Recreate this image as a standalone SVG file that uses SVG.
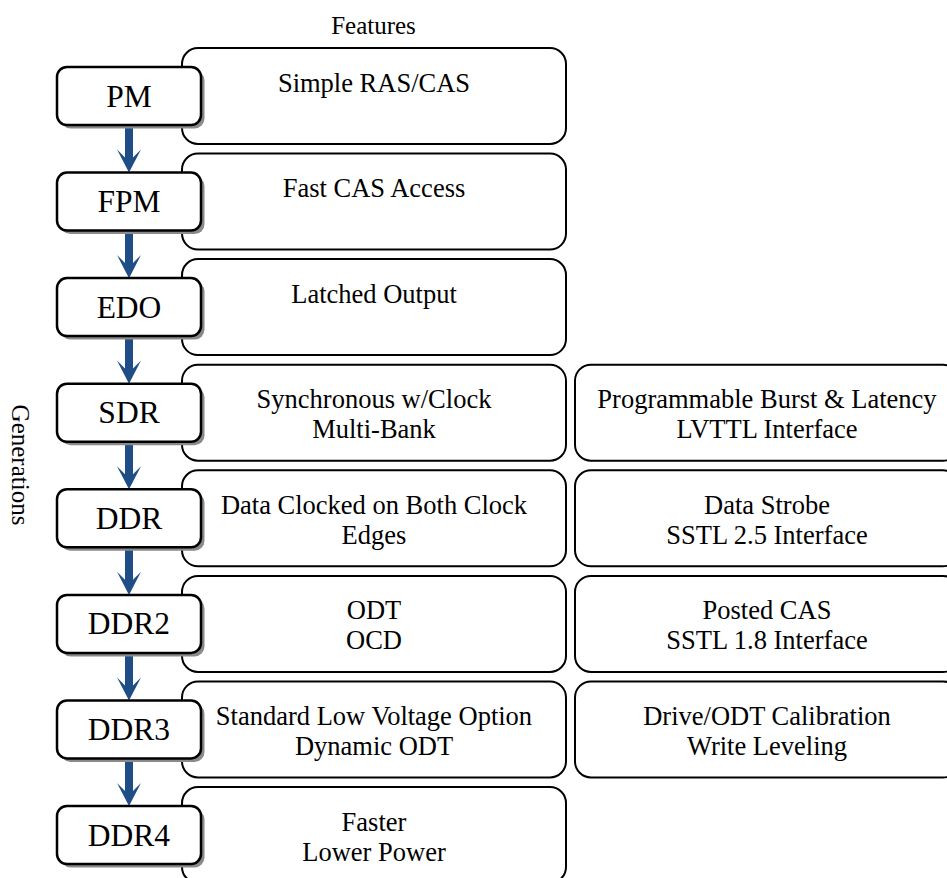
<svg xmlns="http://www.w3.org/2000/svg" xmlns:xlink="http://www.w3.org/1999/xlink" width="947" height="878" viewBox="0 0 947 878" font-family="'Liberation Serif', 'Times New Roman', Times, 'DejaVu Serif', serif">
<style>
  text { font-family: "Liberation Serif", "Times New Roman", Times, "DejaVu Serif", serif; fill: #000; text-anchor: middle; }
  .feat { fill: #fff; stroke: #000; stroke-width: 2; }
  .gen { fill: #fff; stroke: #000; stroke-width: 2.5; }
  .shadow { fill: #8a8a8a; stroke: none; }
  .gl { font-size: 31.5px; }
  .fl { font-size: 26.5px; }
  .hdr { font-size: 25px; }
  .arrow { fill: #1F4E86; stroke: none; }
</style>
<defs>
  <path id="arrowShape" d="M-4,0 H4 V32.5 L12,24.5 L0,47.6 L-12,24.5 L-4,32.5 Z"/>
</defs>
<rect x="0" y="0" width="947" height="878" fill="#fff"/>
<text class="hdr" x="373.5" y="34">Features</text>
<text class="hdr" transform="translate(12,465) rotate(90)">Generations</text>

<g id="features">
  <g id="f-pm"><rect class="feat" x="182" y="48" width="384" height="96" rx="16"/><text class="fl" x="374" y="91.5">Simple RAS/CAS</text></g>
  <g id="f-fpm"><rect class="feat" x="182" y="153.6" width="384" height="96" rx="16"/><text class="fl" x="374" y="197.1">Fast CAS Access</text></g>
  <g id="f-edo"><rect class="feat" x="182" y="259.1" width="384" height="96" rx="16"/><text class="fl" x="374" y="302.6">Latched Output</text></g>
  <g id="f-sdr"><rect class="feat" x="182" y="364.7" width="384" height="96" rx="16"/><text class="fl" x="374" y="408.2">Synchronous w/Clock</text><text class="fl" x="374" y="438.2">Multi-Bank</text></g>
  <g id="f-ddr"><rect class="feat" x="182" y="470.3" width="384" height="96" rx="16"/><text class="fl" x="374" y="513.8">Data Clocked on Both Clock</text><text class="fl" x="374" y="543.8">Edges</text></g>
  <g id="f-ddr2"><rect class="feat" x="182" y="575.9" width="384" height="96" rx="16"/><text class="fl" x="374" y="619.4">ODT</text><text class="fl" x="374" y="649.4">OCD</text></g>
  <g id="f-ddr3"><rect class="feat" x="182" y="681.4" width="384" height="96" rx="16"/><text class="fl" x="374" y="724.9">Standard Low Voltage Option</text><text class="fl" x="374" y="754.9">Dynamic ODT</text></g>
  <g id="f-ddr4"><rect class="feat" x="182" y="787" width="384" height="96" rx="16"/><text class="fl" x="374" y="830.5">Faster</text><text class="fl" x="374" y="860.5">Lower Power</text></g>
  <g id="f2-sdr"><rect class="feat" x="575" y="364.7" width="384" height="96" rx="16"/><text class="fl" x="767" y="408.2">Programmable Burst &amp; Latency</text><text class="fl" x="767" y="438.2">LVTTL Interface</text></g>
  <g id="f2-ddr"><rect class="feat" x="575" y="470.3" width="384" height="96" rx="16"/><text class="fl" x="767" y="513.8">Data Strobe</text><text class="fl" x="767" y="543.8">SSTL 2.5 Interface</text></g>
  <g id="f2-ddr2"><rect class="feat" x="575" y="575.9" width="384" height="96" rx="16"/><text class="fl" x="767" y="619.4">Posted CAS</text><text class="fl" x="767" y="649.4">SSTL 1.8 Interface</text></g>
  <g id="f2-ddr3"><rect class="feat" x="575" y="681.4" width="384" height="96" rx="16"/><text class="fl" x="767" y="724.9">Drive/ODT Calibration</text><text class="fl" x="767" y="754.9">Write Leveling</text></g>
</g>

<g id="connectors">
  <use class="arrow" xlink:href="#arrowShape" href="#arrowShape" x="129" y="125"/>
  <use class="arrow" xlink:href="#arrowShape" href="#arrowShape" x="129" y="230.6"/>
  <use class="arrow" xlink:href="#arrowShape" href="#arrowShape" x="129" y="336.1"/>
  <use class="arrow" xlink:href="#arrowShape" href="#arrowShape" x="129" y="441.7"/>
  <use class="arrow" xlink:href="#arrowShape" href="#arrowShape" x="129" y="547.3"/>
  <use class="arrow" xlink:href="#arrowShape" href="#arrowShape" x="129" y="652.9"/>
  <use class="arrow" xlink:href="#arrowShape" href="#arrowShape" x="129" y="758.4"/>
</g>

<g id="generations">
  <g id="g-pm"><rect class="shadow" x="60.5" y="70.5" width="144" height="58" rx="10"/><rect class="gen" x="57" y="67" width="144" height="58" rx="10"/><text class="gl" x="129" y="106.5">PM</text></g>
  <g id="g-fpm"><rect class="shadow" x="60.5" y="176.1" width="144" height="58" rx="10"/><rect class="gen" x="57" y="172.6" width="144" height="58" rx="10"/><text class="gl" x="129" y="212.1">FPM</text></g>
  <g id="g-edo"><rect class="shadow" x="60.5" y="281.6" width="144" height="58" rx="10"/><rect class="gen" x="57" y="278.1" width="144" height="58" rx="10"/><text class="gl" x="129" y="317.6">EDO</text></g>
  <g id="g-sdr"><rect class="shadow" x="60.5" y="387.2" width="144" height="58" rx="10"/><rect class="gen" x="57" y="383.7" width="144" height="58" rx="10"/><text class="gl" x="129" y="423.2">SDR</text></g>
  <g id="g-ddr"><rect class="shadow" x="60.5" y="492.8" width="144" height="58" rx="10"/><rect class="gen" x="57" y="489.3" width="144" height="58" rx="10"/><text class="gl" x="129" y="528.8">DDR</text></g>
  <g id="g-ddr2"><rect class="shadow" x="60.5" y="598.4" width="144" height="58" rx="10"/><rect class="gen" x="57" y="594.9" width="144" height="58" rx="10"/><text class="gl" x="129" y="634.4">DDR2</text></g>
  <g id="g-ddr3"><rect class="shadow" x="60.5" y="703.9" width="144" height="58" rx="10"/><rect class="gen" x="57" y="700.4" width="144" height="58" rx="10"/><text class="gl" x="129" y="739.9">DDR3</text></g>
  <g id="g-ddr4"><rect class="shadow" x="60.5" y="809.5" width="144" height="58" rx="10"/><rect class="gen" x="57" y="806" width="144" height="58" rx="10"/><text class="gl" x="129" y="845.5">DDR4</text></g>
</g>
</svg>
